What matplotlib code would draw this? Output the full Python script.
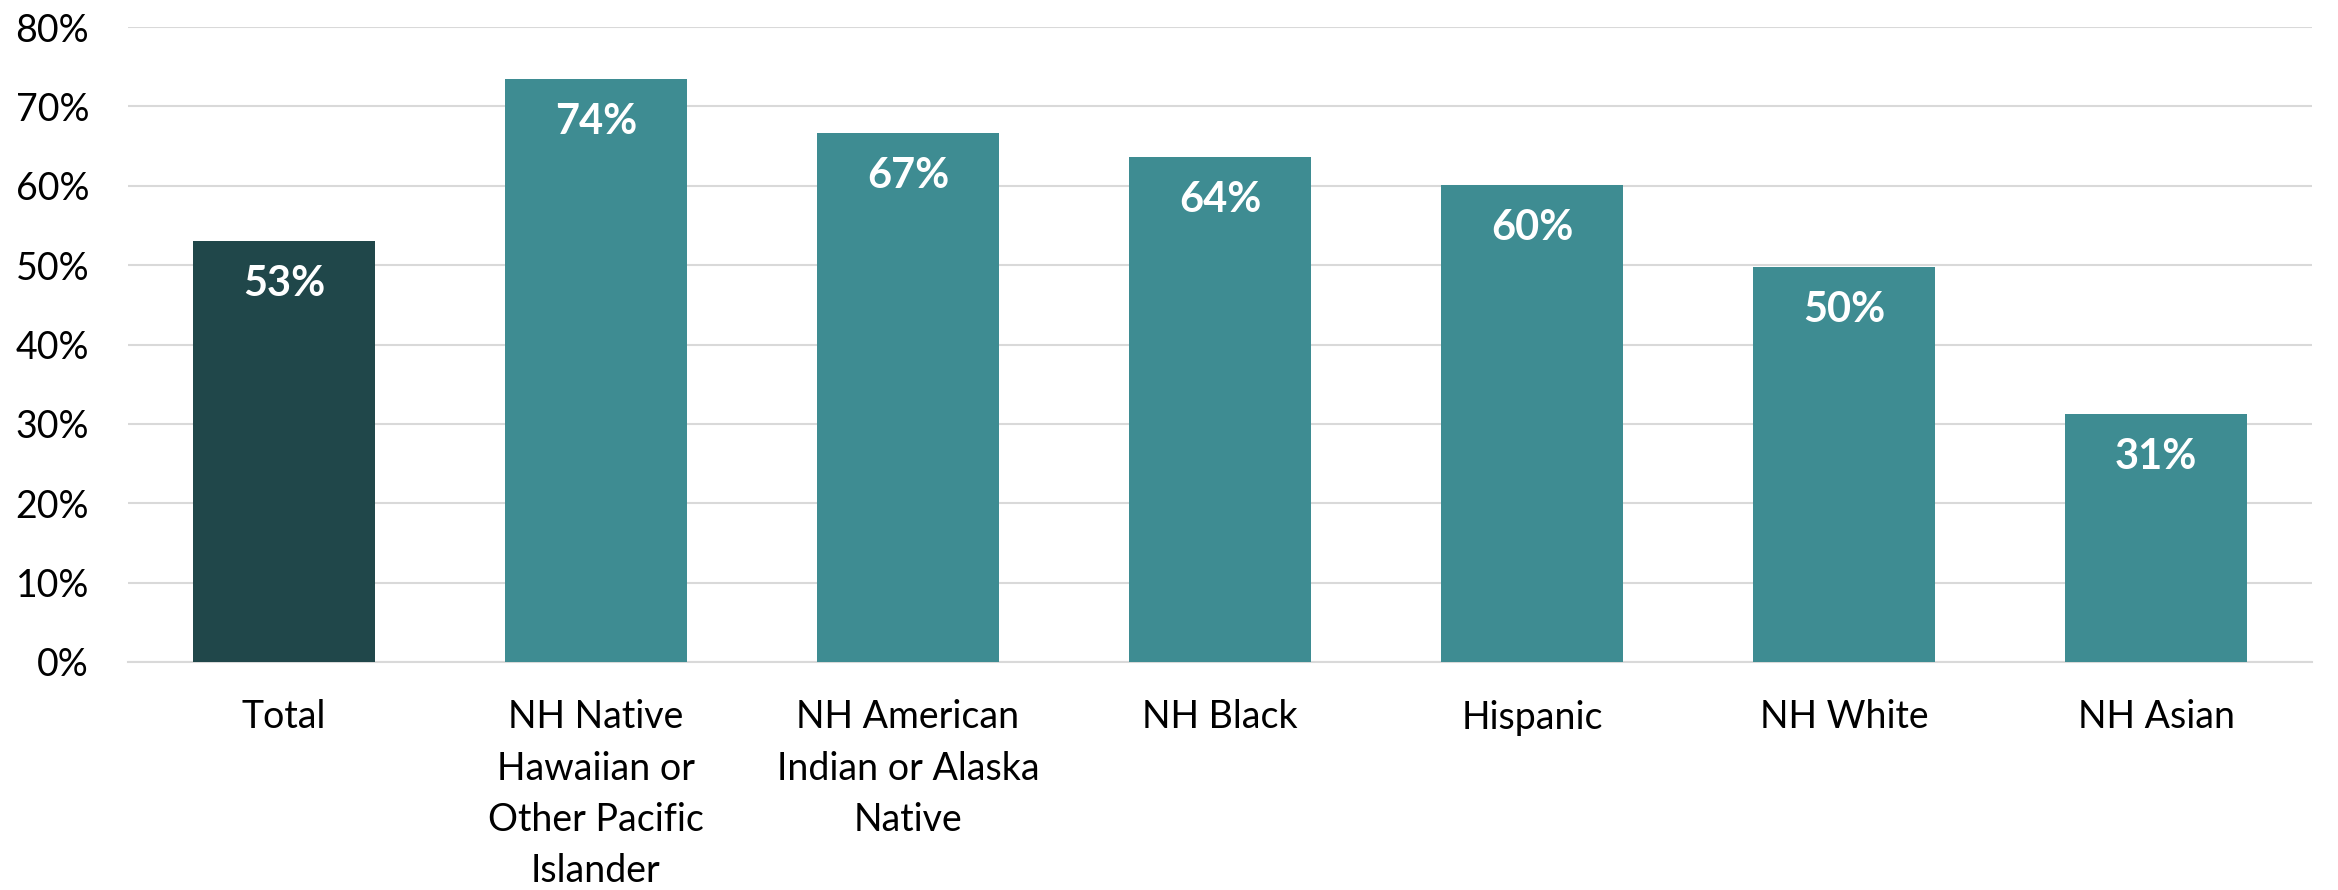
import matplotlib
matplotlib.use("Agg")
import matplotlib.pyplot as plt
from matplotlib.ticker import PercentFormatter

categories = ["Total", "NH Native\nHawaiian or\nOther Pacific\nIslander",
              "NH American\nIndian or Alaska\nNative", "NH Black", "Hispanic",
              "NH White", "NH Asian"]
values = [53.0, 73.5, 66.6, 63.6, 60.1, 49.8, 31.2]
labels = ["53%", "74%", "67%", "64%", "60%", "50%", "31%"]
yticks = [0, 10, 20, 30, 40, 50, 60, 70, 80]

colors = ["#20474A"] + ["#3E8C92"] * (len(values) - 1)

plt.rcParams['font.family'] = ['Lato', 'DejaVu Sans']

fig = plt.figure(figsize=(23.38, 8.9), dpi=100)
ax = fig.add_axes([128/2338, 1 - 662/890, (2312 - 128)/2338, (662 - 27)/890])

x = list(range(len(categories)))
bars = ax.bar(x, values, width=0.583, color=colors, zorder=3)

for xi, v, lab in zip(x, values, labels):
    ax.annotate(lab, (xi, v), xytext=(0, -31), textcoords="offset points",
                ha="center", va="center", color="white", fontsize=30,
                fontweight="bold", zorder=4)

ax.set_ylim(0, 80)
ax.set_xlim(-0.5, len(categories) - 0.5)
ax.set_yticks(yticks)
ax.yaxis.set_major_formatter(PercentFormatter(decimals=0))
ax.set_xticks(x)
ax.set_xticklabels(categories, fontsize=27, linespacing=1.52)
ax.tick_params(axis="y", length=0, pad=28, labelsize=27)
ax.tick_params(axis="x", length=0, pad=27)

ax.grid(axis="y", color="#D9D9D9", linewidth=1.5, zorder=0)
for s in ["top", "right", "left"]:
    ax.spines[s].set_visible(False)
ax.spines["bottom"].set_color("#D9D9D9")
ax.spines["bottom"].set_linewidth(1.5)

fig.savefig("out.png", dpi=100, facecolor="white")
